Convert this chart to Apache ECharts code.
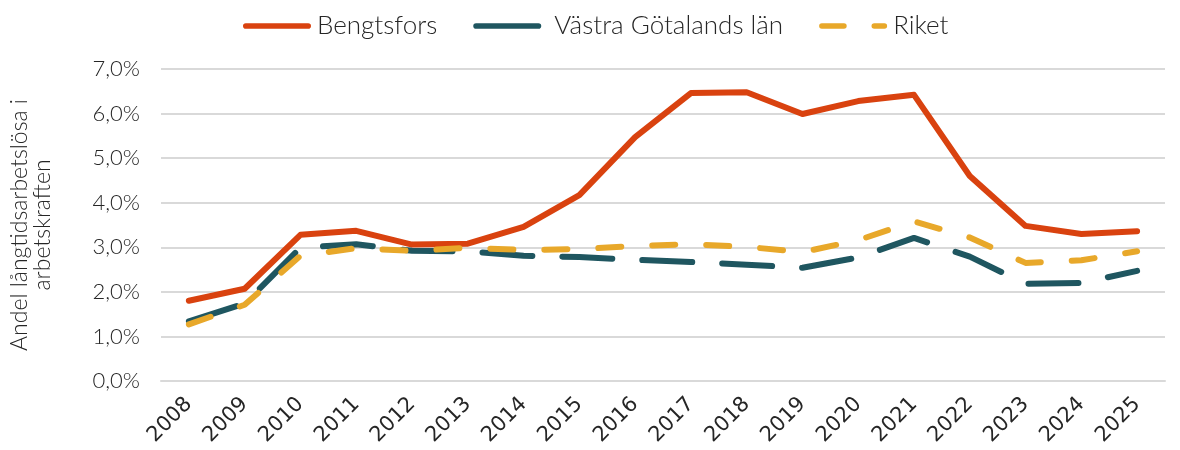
<!DOCTYPE html>
<html>
<head>
<meta charset="utf-8">
<script src="https://cdn.jsdelivr.net/npm/echarts@6/dist/echarts.min.js"></script>
<style>
  html, body { margin: 0; padding: 0; background: #fff; }
  #chart { width: 1180px; height: 450px; }
</style>
</head>
<body>
<div id="chart"></div>
<script>
// === DATA ===
const years = ['2008', '2009', '2010', '2011', '2012', '2013', '2014', '2015', '2016',
               '2017', '2018', '2019', '2020', '2021', '2022', '2023', '2024', '2025'];
const bengtsfors = [1.80, 2.07, 3.28, 3.37, 3.06, 3.08, 3.46, 4.17, 5.47, 6.46, 6.48, 5.99, 6.28, 6.42, 4.60, 3.48, 3.30, 3.36];
const vastraGotaland = [1.34, 1.74, 2.99, 3.07, 2.92, 2.91, 2.81, 2.78, 2.72, 2.67, 2.61, 2.54, 2.77, 3.21, 2.79, 2.18, 2.20, 2.47];
const riket = [1.27, 1.71, 2.81, 2.98, 2.92, 2.99, 2.94, 2.96, 3.03, 3.07, 3.01, 2.89, 3.16, 3.58, 3.22, 2.65, 2.71, 2.91];

const FONT = "'Lato Light', Lato";
const TEXT = '#262626';

// legend icons: rounded bar, and two short dashes for Riket
const ICON_SOLID = 'path://M3,0H69A3,3 0 0 1 69,6H3A3,3 0 0 1 3,0Z';
const ICON_DASH = 'path://M3,0H27A3,3 0 0 1 27,6H3A3,3 0 0 1 3,0Z M60,0H71A3,3 0 0 1 71,6H60A3,3 0 0 1 60,0Z';

// === CHART ===
const chart = echarts.init(document.getElementById('chart'), null, { renderer: 'canvas' });

function lineSeries(name, data, color, dash) {
    return {
        name: name,
        type: 'line',
        data: data,
        symbol: 'none',
        smooth: false,
        lineStyle: { color: color, width: 6, type: dash, cap: 'round', join: 'round' },
        itemStyle: { color: color }
    };
}

chart.setOption({
    backgroundColor: '#ffffff',
    animation: false,
    textStyle: { fontFamily: FONT, color: TEXT },
    legend: {
        top: 8,
        left: 238,
        itemWidth: 68,
        itemHeight: 7,
        itemGap: 36,
        itemStyle: { borderWidth: 0 },
        formatter: name => name === 'Västra Götalands län' ? ' ' + name : name,
        textStyle: { fontFamily: FONT, fontSize: 26, fontWeight: 300, color: TEXT, padding: [0, 0, 0, 1] },
        data: [
            { name: 'Bengtsfors', icon: ICON_SOLID },
            { name: 'Västra Götalands län', icon: ICON_SOLID },
            { name: 'Riket', icon: ICON_DASH }
        ]
    },
    grid: { left: 138, right: 15, top: 69, bottom: 69 },
    xAxis: {
        type: 'category',
        data: years,
        boundaryGap: true,
        axisLine: { show: true, lineStyle: { color: '#d9d9d9', width: 2 } },
        axisTick: { show: false },
        axisLabel: {
            rotate: 45, margin: 20, align: 'right', verticalAlign: 'middle',
            fontFamily: 'DejaVu Sans', fontSize: 21, color: TEXT
        }
    },
    yAxis: {
        type: 'value',
        min: 0,
        max: 7,
        interval: 1,
        name: 'Andel långtidsarbetslösa i\narbetskraften',
        nameLocation: 'middle',
        nameGap: 107,
        nameRotate: 90,
        nameTextStyle: { fontFamily: FONT, fontSize: 23, fontWeight: 300, color: TEXT, lineHeight: 23 },
        axisLine: { show: false },
        axisTick: { show: false },
        axisLabel: {
            margin: 21,
            fontFamily: FONT, fontSize: 22, fontWeight: 300, color: TEXT,
            formatter: v => v.toFixed(1).replace('.', ',') + '%'
        },
        splitLine: { lineStyle: { color: '#d9d9d9', width: 2 } }
    },
    series: [
        lineSeries('Bengtsfors', bengtsfors, '#D9420F', 'solid'),
        lineSeries('Västra Götalands län', vastraGotaland, '#1F5660', [50, 30]),
        lineSeries('Riket', riket, '#E8A82A', [23, 31])
    ]
});
</script>
</body>
</html>
